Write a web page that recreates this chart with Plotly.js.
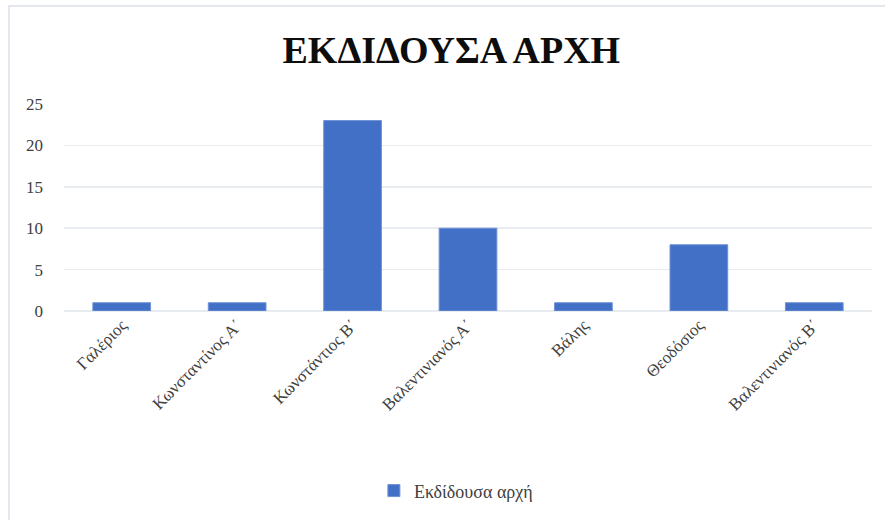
<!DOCTYPE html>
<html>
<head>
<meta charset="utf-8">
<script src="https://cdn.plot.ly/plotly-3.0.1.min.js"></script>
<style>
html,body{margin:0;padding:0;background:#fff;}
#frame{position:absolute;left:8px;top:5px;width:877px;height:515px;border-top:2px solid #E4E7ED;border-left:2px solid #E4E7ED;box-sizing:border-box;pointer-events:none;z-index:5;}
#chart{position:absolute;left:0;top:0;width:885px;height:520px;}
</style>
</head>
<body>
<div id="chart"></div>
<div id="frame"></div>
<script>
var categories = ["Γαλέριος", "Κωνσταντίνος Α΄", "Κωνστάντιος Β΄", "Βαλεντινιανός Α΄", "Βάλης", "Θεοδόσιος", "Βαλεντινιανός Β΄"];
var values = [1, 1, 23, 10, 1, 8, 1];
var seriesName = "Εκδίδουσα αρχή";
var yTicks = [0, 5, 10, 15, 20, 25];

var serif = "Liberation Serif, Times New Roman, serif";

var trace = {
  type: "bar",
  x: categories,
  y: values,
  name: seriesName,
  width: 0.5,
  marker: {color: "#4270C6", line: {color: "#6E92D6", width: 1}},
  showlegend: true,
  hoverinfo: "x+y"
};

var layout = {
  width: 885,
  height: 520,
  paper_bgcolor: "#ffffff",
  plot_bgcolor: "#ffffff",
  margin: {l: 64, r: 13, t: 104, b: 208},
  title: {
    text: "<b>ΕΚΔΙΔΟΥΣΑ ΑΡΧΗ</b>",
    x: 0.51, xanchor: "center",
    y: 0.905, yanchor: "middle",
    font: {family: serif, size: 38, color: "#0d0d0d"}
  },
  font: {family: serif, color: "#404040"},
  xaxis: {
    type: "category",
    tickangle: -45,
    tickfont: {family: serif, size: 17, color: "#404040"},
    showgrid: false,
    showline: false,
    ticks: "",
    zeroline: false
  },
  yaxis: {
    range: [0, 25],
    tickvals: yTicks,
    ticktext: yTicks.map(String),
    tickfont: {family: serif, size: 17, color: "#404040"},
    showgrid: true,
    gridcolor: "#E8EBF0",
    gridwidth: 1.5,
    zeroline: true,
    zerolinecolor: "#E8EBF0",
    zerolinewidth: 1.5,
    showline: false,
    ticks: "",
    ticklabelstandoff: 20
  },
  showlegend: true,
  legend: {
    orientation: "h",
    x: 0.485, xanchor: "center",
    y: -0.86, yanchor: "middle",
    font: {family: serif, size: 18, color: "#404040"},
    itemwidth: 30
  },
  bargap: 0.5
};

Plotly.newPlot("chart", [trace], layout, {displayModeBar: false, staticPlot: true});
</script>
</body>
</html>
